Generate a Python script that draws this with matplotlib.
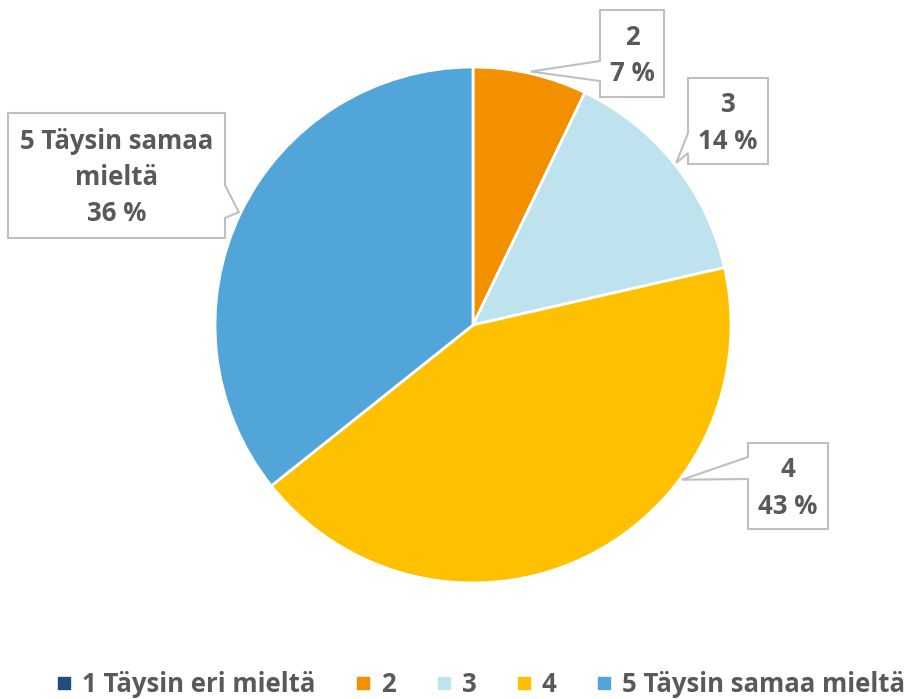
import numpy as np
import matplotlib.pyplot as plt
from matplotlib.patches import Polygon
from matplotlib.lines import Line2D

# data
categories = ['1 Täysin eri mieltä', '2', '3', '4', '5 Täysin samaa mieltä']
counts = [0, 1, 2, 6, 5]
colors = ['#1F4E79', '#F39000', '#BEE3EE', '#FFC000', '#52A5D8']
callout_text = ['', '2', '3', '4', '5 Täysin samaa\nmieltä']

W, H = 909, 699
plt.rcParams['font.family'] = ['Open Sans', 'DejaVu Sans']
fig = plt.figure(figsize=(W / 100, H / 100), dpi=100)
ax = fig.add_axes([0, 0, 1, 1])

cx, cy, r = 473, H - 325, 258
wedges, _ = ax.pie(counts, colors=colors, startangle=90, counterclock=False,
                   center=(cx, cy), radius=r, frame=True,
                   wedgeprops=dict(edgecolor='white', linewidth=2))
ax.set_xlim(0, W)
ax.set_ylim(0, H)
ax.set_aspect('equal')
ax.axis('off')

pct = [round(c / sum(counts) * 100) for c in counts]
tcol = '#595959'

# callout boxes (pixel coords, y down): box, side, pointer base, tip fraction along wedge
boxes = {
    1: ((600, 10, 664, 97), 'left', (61, 81), 0.5),
    2: ((688, 78, 768, 164), 'left', (133, 153), 0.5),
    3: ((748, 443, 828, 529), 'left', (457, 479), 0.32),
    4: ((8, 113, 225, 238), 'right', (185, 218), 0.5),
}

def fy(y):
    return H - y

for i, (box, side, base, frac) in boxes.items():
    w = wedges[i]
    t1, t2 = w.theta1, w.theta2
    ang = np.deg2rad(t2 - (t2 - t1) * frac)
    tx, ty = cx + (r + 2) * np.cos(ang), cy + (r + 2) * np.sin(ang)
    x0, y0, x1, y1 = box
    b0, b1 = base
    if side == 'left':
        pts = [(x0, fy(y0)), (x1, fy(y0)), (x1, fy(y1)), (x0, fy(y1)),
               (x0, fy(b1)), (tx, ty), (x0, fy(b0))]
    else:
        pts = [(x0, fy(y0)), (x1, fy(y0)), (x1, fy(b0)), (tx, ty),
               (x1, fy(b1)), (x1, fy(y1)), (x0, fy(y1))]
    ax.add_patch(Polygon(pts, closed=True, facecolor='white',
                         edgecolor='#BFBFBF', linewidth=1.5, zorder=5))
    ax.text((x0 + x1) / 2, fy((y0 + y1) / 2) - 2, f'{callout_text[i]}\n{pct[i]} %',
            ha='center', va='center', multialignment='center', fontsize=18.5,
            fontweight='bold', color=tcol, linespacing=1.45, zorder=6)

handles = [Line2D([], [], marker='s', linestyle='none', markersize=8,
                  markerfacecolor=c, markeredgecolor=c) for c in colors]
leg = fig.legend(handles, categories, loc='center', bbox_to_anchor=(0.529, 1 - 684 / H),
                 ncol=5, frameon=False, handlelength=0.6, handletextpad=0.4,
                 columnspacing=1.55, borderaxespad=0, borderpad=0,
                 prop=dict(size=18.5, weight='bold'))
for t in leg.get_texts():
    t.set_color(tcol)

fig.savefig('out.png', dpi=100)
